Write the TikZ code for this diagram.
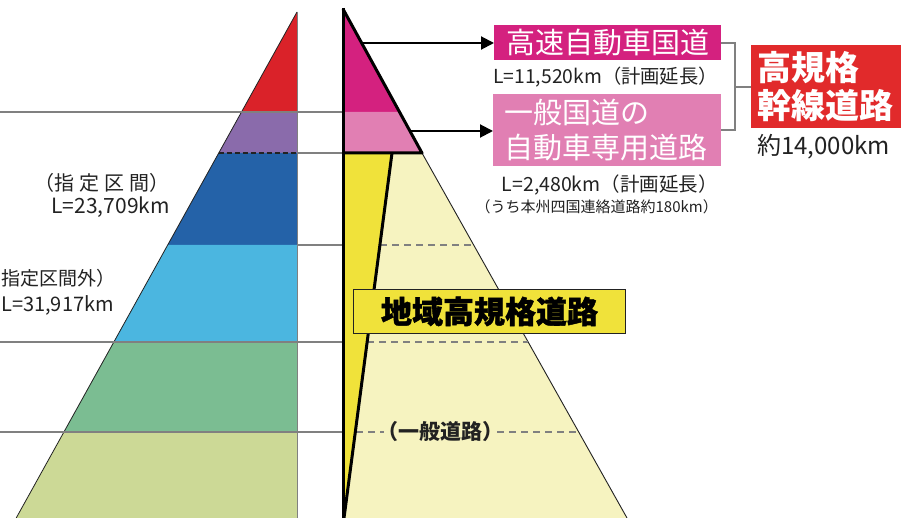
\documentclass[tikz,border=0pt]{standalone}
\usepackage{fontspec}
\setmainfont{Noto Sans CJK JP}
\newfontfamily\heavyfont{Noto Sans CJK JP}[BoldFeatures={FakeBold=1.4}]
\usetikzlibrary{arrows.meta}
\definecolor{cRed}{HTML}{DA2229}
\definecolor{cPurple}{HTML}{8A6BAB}
\definecolor{cBlue}{HTML}{2462A8}
\definecolor{cSky}{HTML}{4BB6E0}
\definecolor{cGreen}{HTML}{7BBD92}
\definecolor{cLime}{HTML}{CCD996}
\definecolor{cMag}{HTML}{D4217F}
\definecolor{cPink}{HTML}{E17FB3}
\definecolor{cYel}{HTML}{F0E23A}
\definecolor{cCream}{HTML}{F6F3C0}
\definecolor{cBoxRed}{HTML}{E12A2B}
\definecolor{cGrey}{HTML}{808080}
\definecolor{cInk}{HTML}{222222}
\begin{document}
\begin{tikzpicture}[x=1pt,y=-1pt,
  gline/.style={draw=cGrey,line width=1.2pt},
  dline/.style={draw=cGrey,line width=1.2pt,dash pattern=on 7pt off 5pt},
  thick outline/.style={draw=black,line width=3pt,line join=round},
  lbl/.style={font=\fontsize{19}{22}\selectfont,text=cInk,inner sep=0pt},
  small lbl/.style={font=\fontsize{15}{18}\selectfont,text=cInk,inner sep=0pt},
  tagbox/.style={inner sep=0pt,text=white,anchor=north west},
  arr/.style={draw=black,line width=2pt,-{Triangle[length=13pt,width=13pt]}}]
\useasboundingbox (0,0) rectangle (901,518);
\clip (0,0) rectangle (901,518);
\fill[white] (0,0) rectangle (901,518);

% ---------- left pyramid ----------
\fill[cRed]    (297,12) -- (241.5,112) -- (297,112) -- cycle;
\fill[cPurple] (241.5,112) -- (218.7,153) -- (297,153) -- (297,112) -- cycle;
\fill[cBlue]   (218.7,153) -- (167.7,245) -- (297,245) -- (297,153) -- cycle;
\fill[cSky]    (167.7,245) -- (113.8,342) -- (297,342) -- (297,245) -- cycle;
\fill[cGreen]  (113.8,342) -- (63.9,432) -- (297,432) -- (297,342) -- cycle;
\fill[cLime]   (63.9,432) -- (16.2,518) -- (297,518) -- (297,432) -- cycle;
\draw[draw=cInk,line width=0.8pt] (297,12) -- (16.2,518);
\draw[gline,line width=0.8pt] (297,12) -- (297,518);
\draw[draw=cInk,line width=1.2pt,dash pattern=on 5pt off 3pt] (218.7,153) -- (297,153);

% horizontal guide lines
\draw[gline] (0,112) -- (343,112);
\draw[gline] (297,153) -- (343,153);
\draw[gline] (297,245) -- (343,245);
\draw[gline] (0,342) -- (343,342);
\draw[gline] (0,432) -- (343,432);

% left labels
\node[lbl,anchor=east,font=\fontsize{20}{22}\selectfont] (shitei) at (170,183) {（指\hspace{5pt}定\hspace{5pt}区\hspace{5pt}間）};
\node[lbl,anchor=east,font=\fontsize{21}{22}\selectfont] (shiteiL) at (170,207) {L=23,709km};
\node[lbl,anchor=west,font=\fontsize{19}{22}\selectfont] (gai) at (1,278) {指定区間外）};
\node[lbl,anchor=west,font=\fontsize{20}{22}\selectfont] (gaiL) at (1,305) {L=31,917km};

% ---------- right pyramid ----------
\fill[cCream] (343,153) -- (422,153) -- (627,518) -- (343,518) -- cycle;
\draw[draw=cInk,line width=0.9pt] (422,153) -- (627,518);
\fill[cMag]  (343,9) -- (399.5,112) -- (343,112) -- cycle;
\fill[cPink] (343,112) -- (399.5,112) -- (422,153) -- (343,153) -- cycle;
\fill[cYel]  (343,153) -- (392,153) -- (344,518) -- (343,518) -- cycle;

% dashed lines in the general road area
\draw[dline] (380,245) -- (473,245);
\draw[dline] (367,342) -- (528,342);
\draw[dline] (356,432) -- (384,432);
\draw[dline] (497,432) -- (579,432);

\draw[thick outline] (392,153) -- (344,518);
\draw[thick outline] (343,153) -- (422,153) -- (343,9);
\draw[thick outline] (343,8) -- (343,518);

\node[lbl,font=\fontsize{21}{24}\selectfont\bfseries] (ippan) at (440,432) {（一般道路）};

% regional high-standard road box
\node[draw=cInk,line width=1pt,fill=cYel,minimum width=272pt,minimum height=44pt,
      inner sep=0pt,anchor=north west,font=\heavyfont\fontsize{31}{34}\selectfont\bfseries,text=black]
      (chiiki) at (353,289) {地域高規格道路};

% tag boxes
\node[tagbox,fill=cMag,minimum width=227pt,minimum height=35pt,
      font=\fontsize{29}{32}\selectfont] (kosoku) at (494,25) {高速自動車国道};
\node[lbl,anchor=north east,font=\fontsize{19.3}{22}\selectfont] (kosokuL) at (718,67) {L=11,520km（計画延長）};
\node[tagbox,fill=cPink,minimum width=228pt,minimum height=72pt,
      font=\fontsize{29}{35}\selectfont,align=left,text width=206pt,inner xsep=11pt] (senyo) at (493,94)
      {一般国道の\\自動車専用道路};
\node[lbl,anchor=north east,font=\fontsize{19.5}{22}\selectfont] (senyoL) at (718,175) {L=2,480km（計画延長）};
\node[small lbl,anchor=north east] (honshi) at (718,199) {（うち本州四国連絡道路約180km）};

\node[tagbox,fill=cBoxRed,minimum width=150pt,minimum height=83pt,
      font=\fontsize{34}{38}\selectfont\bfseries,align=left,text width=138pt,inner xsep=6pt] (kikaku) at (751,45)
      {高規格\\幹線道路};
\node[lbl,anchor=north west,font=\fontsize{24}{26}\selectfont] (yaku) at (757,134) {約14,000km};

% arrows
\coordinate (a1) at (361,43);
\coordinate (a2) at (410,131);
\draw[arr] (a1) -- (a1 -| kosoku.west);
\draw[arr] (a2) -- (a2 -| senyo.west);

% bracket
\coordinate (bk) at (735,87);
\draw[gline,line width=1.8pt] (kosoku.east) -- (kosoku.east -| bk) -- (bk |- 0,130) -- (721,130);
\draw[gline,line width=1.8pt] (bk) -- (bk -| kikaku.west);
\end{tikzpicture}
\end{document}
